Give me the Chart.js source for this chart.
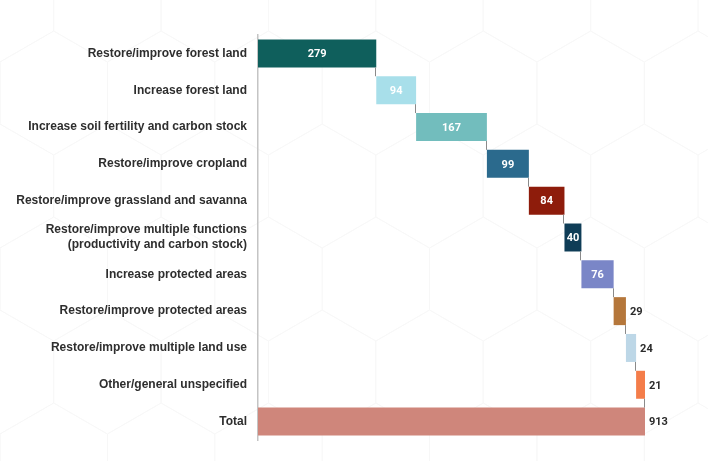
<!DOCTYPE html>
<html>
<head>
<meta charset="utf-8">
<script src="https://cdn.jsdelivr.net/npm/chart.js@4.4.1/dist/chart.umd.min.js"></script>
<style>
  html, body { margin: 0; padding: 0; background: #fff; }
  #wrap { width: 708px; height: 461px; position: relative; }
</style>
</head>
<body>
<div id="wrap"><canvas id="waterfall"></canvas></div>
<script>
const categories = [
  'Restore/improve forest land',
  'Increase forest land',
  'Increase soil fertility and carbon stock',
  'Restore/improve cropland',
  'Restore/improve grassland and savanna',
  ['Restore/improve multiple functions', '(productivity and carbon stock)'],
  'Increase protected areas',
  'Restore/improve protected areas',
  'Restore/improve multiple land use',
  'Other/general unspecified'
];
const values = [279, 94, 167, 99, 84, 40, 76, 29, 24, 21];
const totalLabel = 'Total';
const totalValue = 913;

const barColors = [
  '#0f5f5c', '#a8dfea', '#72bdbd', '#2b6a8d', '#8e1c0b',
  '#0f3d57', '#7a86c7', '#b5773b', '#bdd7e7', '#f47d4a'
];
const totalColor = '#cf867b';

// floating [start, end] pairs for the waterfall steps, then the total bar
let running = 0;
const ranges = values.map(v => {
  const r = [running, running + v];
  running += v;
  return r;
});
ranges.push([0, totalValue]);
const shownValues = values.concat([totalValue]);

// very light hexagon outlines behind everything
const hexBackdrop = {
  id: 'hexBackdrop',
  beforeDraw(chart) {
    const ctx = chart.ctx;
    const r = 62;
    const w = Math.sqrt(3) * r;
    ctx.save();
    ctx.strokeStyle = '#f8f8f8';
    ctx.lineWidth = 1;
    for (let row = -1; row * 1.5 * r < chart.height + r; row++) {
      const cy = row * 1.5 * r;
      const off = (row % 2) ? w / 2 : 0;
      for (let cx = -w + off; cx < chart.width + w; cx += w) {
        ctx.beginPath();
        for (let k = 0; k < 6; k++) {
          const a = Math.PI / 6 + k * Math.PI / 3;
          const px = cx + r * Math.cos(a), py = cy + r * Math.sin(a);
          if (k === 0) ctx.moveTo(px, py); else ctx.lineTo(px, py);
        }
        ctx.closePath();
        ctx.stroke();
      }
    }
    ctx.restore();
  }
};

// thin grey steps joining each bar to the next one
const connectors = {
  id: 'connectors',
  afterDatasetsDraw(chart) {
    const meta = chart.getDatasetMeta(0);
    const ctx = chart.ctx;
    ctx.save();
    ctx.strokeStyle = '#8a8a8a';
    ctx.lineWidth = 1;
    for (let i = 0; i < meta.data.length - 1; i++) {
      const a = meta.data[i], b = meta.data[i + 1];
      const x = Math.round(a.x) - 0.5;
      ctx.beginPath();
      ctx.moveTo(x, a.y + a.height / 2);
      ctx.lineTo(x, b.y - b.height / 2);
      ctx.stroke();
    }
    ctx.restore();
  }
};

// value labels: inside wide bars, just right of narrow ones
const valueLabels = {
  id: 'valueLabels',
  afterDatasetsDraw(chart) {
    const meta = chart.getDatasetMeta(0);
    const ctx = chart.ctx;
    ctx.save();
    ctx.font = 'bold 11px Roboto';
    ctx.textBaseline = 'middle';
    meta.data.forEach((bar, i) => {
      const w = bar.x - bar.base;
      const isTotal = i === meta.data.length - 1;
      if (w > 15 && !isTotal) {
        ctx.fillStyle = '#ffffff';
        ctx.textAlign = 'center';
        ctx.fillText(shownValues[i], (bar.x + bar.base) / 2, bar.y + 1);
      } else {
        ctx.fillStyle = '#2b2b2b';
        ctx.textAlign = 'left';
        ctx.fillText(shownValues[i], bar.x + 4, bar.y + 1);
      }
    });
    ctx.restore();
  }
};

new Chart(document.getElementById('waterfall'), {
  type: 'bar',
  data: {
    labels: categories.concat([totalLabel]),
    datasets: [{
      data: ranges,
      backgroundColor: barColors.concat([totalColor]),
      borderWidth: 0,
      borderSkipped: false,
      categoryPercentage: 1,
      barPercentage: 0.76
    }]
  },
  options: {
    indexAxis: 'y',
    responsive: true,
    maintainAspectRatio: false,
    animation: false,
    layout: { padding: { top: 35, bottom: 21, right: 63, left: 0 } },
    plugins: {
      legend: { display: false },
      tooltip: { enabled: false }
    },
    scales: {
      x: {
        display: false,
        min: 0,
        max: totalValue
      },
      y: {
        grid: { display: false, drawTicks: false },
        border: { display: true, color: '#c4c4c4', width: 1.5 },
        afterFit(scale) { scale.width = 258; },
        ticks: {
          padding: 11,
          color: '#2e2e2e',
          font: { family: 'Liberation Sans', size: 12, weight: 'bold', lineHeight: 1.25 }
        }
      }
    }
  },
  plugins: [hexBackdrop, connectors, valueLabels]
});
</script>
</body>
</html>
